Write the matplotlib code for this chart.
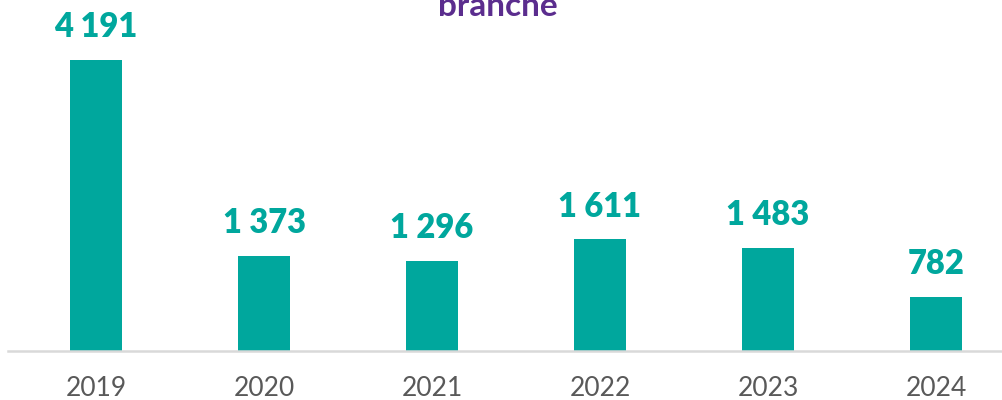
import matplotlib
matplotlib.use("Agg")
import matplotlib.pyplot as plt

years = ["2019", "2020", "2021", "2022", "2023", "2024"]
values = [4191, 1373, 1296, 1611, 1483, 782]
labels = ["4 191", "1 373", "1 296", "1 611", "1 483", "782"]
title = "branche"

teal = "#00A79D"
W, H = 1003, 400
fig = plt.figure(figsize=(W / 100, H / 100), dpi=100)
ax = fig.add_axes([8 / W, 49 / H, (W - 8) / W, 351 / H])

x = list(range(len(years)))
ax.bar(x, values, width=0.315, color=teal, zorder=2)
ax.set_xlim(-0.524, 5.399)
ax.set_ylim(0, 351 / 0.0694)

for xi, v, lab in zip(x, values, labels):
    ax.annotate(lab, (xi, v), xytext=(0, 12), textcoords="offset points",
                ha="center", va="bottom", color=teal, fontsize=23.5,
                fontweight="heavy", family="Lato")

for s in ["top", "right", "left"]:
    ax.spines[s].set_visible(False)
ax.spines["bottom"].set_color("#D9D9D9")
ax.spines["bottom"].set_linewidth(1.8)
ax.set_yticks([])
ax.set_xticks(x)
ax.set_xticklabels(years, fontsize=19, color="#595959", family="Lato")
ax.tick_params(axis="x", length=0, pad=18)

fig.text(498 / W, 384 / H, title, ha="center", va="baseline", color="#5B2D8E",
         fontsize=24, fontweight="bold", family="Lato")

fig.savefig("out.png", dpi=100)
